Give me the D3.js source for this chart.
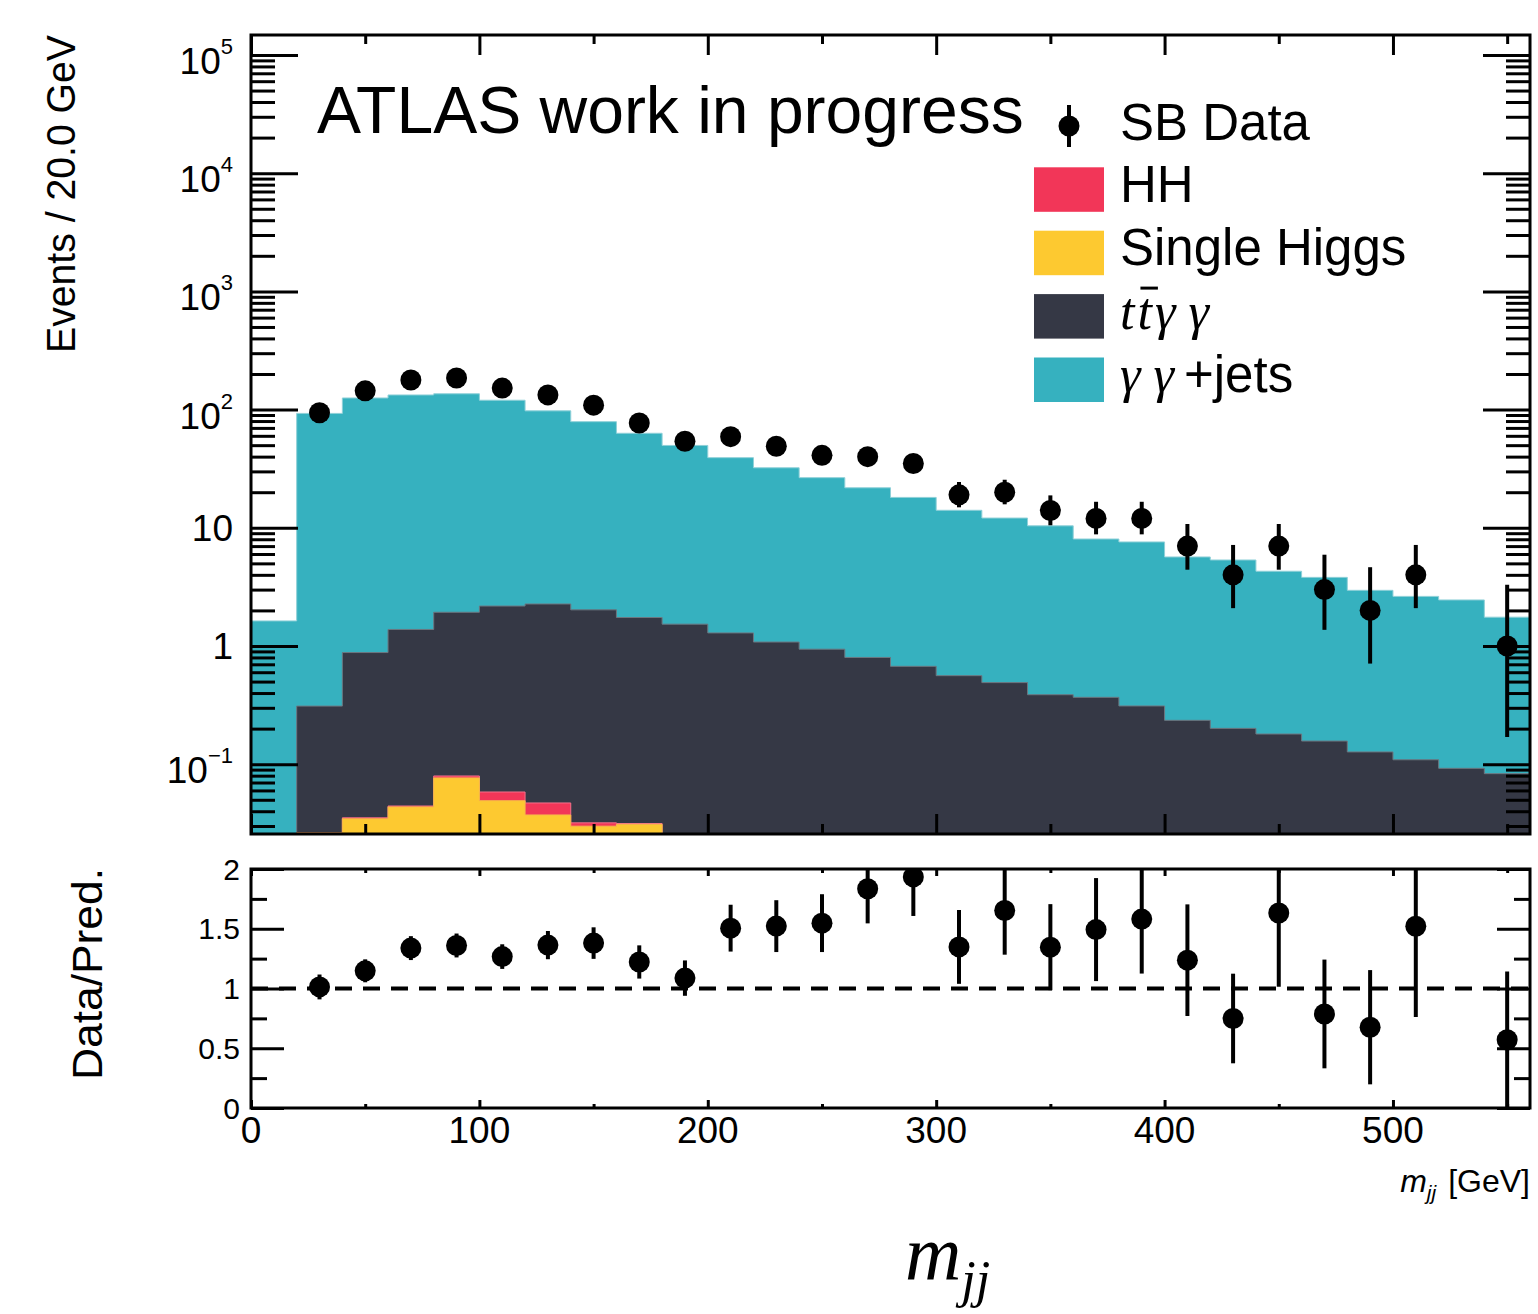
<!DOCTYPE html>
<meta charset="utf-8">
<style>

body {
  margin: 0;
  background: #fff;
}

text {
  font-family: "Liberation Sans", Arial, Helvetica, sans-serif;
  fill: #000;
}

.serif {
  font-family: "Liberation Serif", "Times New Roman", serif;
  font-style: italic;
}

.axis line {
  stroke: #000;
  stroke-width: 3;
}

.frame {
  fill: none;
  stroke: #000;
  stroke-width: 3;
}

</style>
<body>
<div id="draw"></div>
<script src="https://cdn.jsdelivr.net/npm/d3@7"></script>
<script>

// ---- data (20 GeV bins) ----
var binEdges = [0, 20, 40, 60, 80, 100, 120, 140, 160, 180, 200, 220, 240, 260, 280,
                300, 320, 340, 360, 380, 400, 420, 440, 460, 480, 500, 520, 540, 560];
var binCenters = [10, 30, 50, 70, 90, 110, 130, 150, 170, 190, 210, 230, 250, 270,
                  290, 310, 330, 350, 370, 390, 410, 430, 450, 470, 490, 510, 530, 550];

var gamgamJets = [1.63, 92.5, 124.5, 131.6, 134.1, 117.8, 95.3, 77.0, 61.3, 48.2, 37.9, 31.1, 25.6, 21.0,
                  17.4, 13.5, 11.6, 10.0, 7.67, 7.28, 5.43, 5.14, 4.11, 3.65, 2.83, 2.52, 2.36, 1.67];
var ttgamgam = [0, 0.284, 0.845, 1.336, 1.85, 2.12, 2.22, 1.99, 1.71, 1.53, 1.29, 1.08, 0.94, 0.80,
                0.673, 0.561, 0.49, 0.387, 0.368, 0.311, 0.235, 0.201, 0.180, 0.157, 0.127, 0.109, 0.0923, 0.0832];
var singleHiggs = [0, 0.0262, 0.0345, 0.0435, 0.0765, 0.0491, 0.0372, 0.0299, 0.031, 0, 0, 0, 0, 0,
                   0, 0, 0, 0, 0, 0, 0, 0, 0, 0, 0, 0, 0, 0];
var diHiggs = [0, 0, 0.0007, 0.0008, 0.003, 0.0091, 0.0098, 0.002, 0.0005, 0, 0, 0, 0, 0,
               0, 0, 0, 0, 0, 0, 0, 0, 0, 0, 0, 0, 0, 0];

var sbData =    [null, 94, 144, 178, 185, 152, 133, 109, 77, 54, 59, 49, 41, 40,
                 35, 19, 20, 14, 12, 12, 7, 4, 7, 3, 2, 4, null, 1];
var dataErrLo = [null, 9.4, 11.7, 13.0, 13.3, 12.0, 11.2, 10.1, 8.5, 7.1, 7.4, 6.7, 6.1, 6.0,
                 5.6, 4.1, 4.2, 3.5, 3.2, 3.2, 2.58, 1.91, 2.58, 1.63, 1.29, 1.91, null, 0.83];
var dataErrHi = [null, 10.7, 13.0, 14.3, 14.6, 13.3, 12.5, 11.4, 9.8, 8.3, 8.7, 8.0, 7.4, 7.3,
                 6.9, 5.4, 5.5, 4.8, 4.6, 4.6, 3.77, 3.16, 3.77, 2.92, 2.64, 3.16, null, 2.30];

var ratio =    [null, 1.013, 1.148, 1.338, 1.360, 1.267, 1.363, 1.380, 1.222, 1.087, 1.505, 1.522, 1.547, 1.835,
                1.934, 1.348, 1.653, 1.346, 1.493, 1.581, 1.237, 0.749, 1.632, 0.787, 0.676, 1.521, null, 0.571];
var ratioErr = [null, 0.104, 0.096, 0.100, 0.100, 0.103, 0.118, 0.132, 0.139, 0.148, 0.196, 0.217, 0.242, 0.290,
                0.327, 0.309, 0.370, 0.360, 0.431, 0.456, 0.467, 0.375, 0.617, 0.455, 0.478, 0.760, null, 0.571];

var yMajorTicks = [0.1, 1, 10, 100, 1000, 10000, 100000];
var yTickLabels = [["10", "\u22121"], ["1", ""], ["10", ""], ["10", "2"], ["10", "3"], ["10", "4"], ["10", "5"]];
var xMajorTicks = [0, 100, 200, 300, 400, 500];
var xMinorTicks = [50, 150, 250, 350, 450, 550];
var xTickLabels = ["0", "100", "200", "300", "400", "500"];
var ratioMajorTicks = [0, 0.5, 1, 1.5, 2];
var ratioMinorTicks = [0.25, 0.75, 1.25, 1.75];
var ratioTickLabels = ["0", "0.5", "1", "1.5", "2"];

var legendLabels = ["HH", "Single Higgs", "ttgg", "ggjets"];
var colors = {hh: "#f23658", sh: "#fdc930", tt: "#353845", gg: "#36b1bf"};

// ---- layout ----
var W = 1538, H = 1314;
var L = 251, R = 1530;
var topT = 35, topB = 834;
var ratT = 869, ratB = 1108;

var x = d3.scaleLinear().domain([0, 560]).range([L, R]);
var y = d3.scaleLog().domain([Math.pow(10, -1.5905), Math.pow(10, 5.169)]).range([topB, topT]);
var yr = d3.scaleLinear().domain([0, 2]).range([ratB, ratT]);

var svg = d3.select("#draw").append("svg")
    .attr("width", W)
    .attr("height", H);

var defs = svg.append("defs");
defs.append("clipPath").attr("id", "clipTop")
  .append("rect").attr("x", L).attr("y", topT).attr("width", R - L).attr("height", topB - topT);
defs.append("clipPath").attr("id", "clipRat")
  .append("rect").attr("x", L).attr("y", ratT).attr("width", R - L).attr("height", ratB - ratT);

// stacked sums: bottom single higgs, then HH, then ttgg, then gg+jets
var c1 = [], c2 = [], c3 = [], c4 = [];
for (var i = 0; i < gamgamJets.length; i++) {
  c1.push(singleHiggs[i]);
  c2.push(c1[i] + diHiggs[i]);
  c3.push(c2[i] + ttgamgam[i]);
  c4.push(c3[i] + gamgamJets[i]);
}

function stepPoints(vals) {
  var pts = [];
  for (var i = 0; i < vals.length; i++) {
    var yy = vals[i] > 0 ? y(vals[i]) : topB + 10;
    pts.push([x(binEdges[i]), yy]);
    pts.push([x(binEdges[i + 1]), yy]);
  }
  return pts;
}

var area = d3.area()
    .x(function(d) { return d[0]; })
    .y0(topB + 10)
    .y1(function(d) { return d[1]; });
var line = d3.line()
    .x(function(d) { return d[0]; })
    .y(function(d) { return d[1]; });

var hist = svg.append("g").attr("clip-path", "url(#clipTop)");
var layers = [
  {vals: c4, fill: colors.gg, edge: "#8fd0d8"},
  {vals: c3, fill: colors.tt, edge: "#6c7780"},
  {vals: c2, fill: colors.hh, edge: "#f4708a"},
  {vals: c1, fill: colors.sh, edge: "#f7b94a"}
];
layers.forEach(function(l) {
  var pts = stepPoints(l.vals);
  hist.append("path").attr("d", area(pts)).attr("fill", l.fill);
  hist.append("path").attr("d", line(pts)).attr("fill", "none")
      .attr("stroke", l.edge).attr("stroke-width", 1);
});

// ---- axes (ticks drawn over the histograms) ----
function ticks(gen, tx, ty) {
  var g = svg.append("g").attr("class", "axis")
      .attr("transform", "translate(" + tx + "," + ty + ")")
      .call(gen);
  g.select(".domain").remove();
  return g;
}

var yMinor = [];
for (var e = -2; e <= 5; e++) {
  for (var m = 2; m <= 9; m++) {
    var v = m * Math.pow(10, e);
    if (v > y.domain()[0] && v < y.domain()[1]) yMinor.push(v);
  }
}

// top panel
ticks(d3.axisLeft(y).tickValues(yMajorTicks).tickSize(-47).tickFormat(""), L, 0);
ticks(d3.axisLeft(y).tickValues(yMinor).tickSize(-24).tickFormat(""), L, 0);
ticks(d3.axisRight(y).tickValues(yMajorTicks).tickSize(-47).tickFormat(""), R, 0);
ticks(d3.axisRight(y).tickValues(yMinor).tickSize(-24).tickFormat(""), R, 0);
ticks(d3.axisBottom(x).tickValues(xMajorTicks).tickSize(-20).tickFormat(""), 0, topB);
ticks(d3.axisBottom(x).tickValues(xMinorTicks).tickSize(-10).tickFormat(""), 0, topB);
ticks(d3.axisTop(x).tickValues(xMajorTicks).tickSize(-20).tickFormat(""), 0, topT);
ticks(d3.axisTop(x).tickValues(xMinorTicks).tickSize(-9).tickFormat(""), 0, topT);

// ratio panel
ticks(d3.axisLeft(yr).tickValues(ratioMajorTicks).tickSize(-33).tickFormat(""), L, 0);
ticks(d3.axisLeft(yr).tickValues(ratioMinorTicks).tickSize(-16).tickFormat(""), L, 0);
ticks(d3.axisRight(yr).tickValues(ratioMajorTicks).tickSize(-33).tickFormat(""), R, 0);
ticks(d3.axisRight(yr).tickValues(ratioMinorTicks).tickSize(-16).tickFormat(""), R, 0);
ticks(d3.axisBottom(x).tickValues(xMajorTicks).tickSize(-8).tickFormat(""), 0, ratB);
ticks(d3.axisBottom(x).tickValues(xMinorTicks).tickSize(-4).tickFormat(""), 0, ratB);
ticks(d3.axisTop(x).tickValues(xMajorTicks).tickSize(-7).tickFormat(""), 0, ratT);
ticks(d3.axisTop(x).tickValues(xMinorTicks).tickSize(-4).tickFormat(""), 0, ratT);

svg.append("rect").attr("class", "frame")
    .attr("x", L).attr("y", topT).attr("width", R - L).attr("height", topB - topT);
svg.append("rect").attr("class", "frame")
    .attr("x", L).attr("y", ratT).attr("width", R - L).attr("height", ratB - ratT);

// tick labels
yMajorTicks.forEach(function(v, i) {
  var lab = yTickLabels[i];
  var t = svg.append("text").attr("x", 233).attr("text-anchor", "end").attr("font-size", 37);
  if (lab[1] !== "") {
    t.attr("y", y(v) + 19);
    t.append("tspan").text(lab[0]);
    t.append("tspan").attr("font-size", 22).attr("dy", -20).text(lab[1]);
  } else {
    t.attr("y", y(v) + 13.5).text(lab[0]);
  }
});

xMajorTicks.forEach(function(v, i) {
  svg.append("text").attr("x", x(v)).attr("y", 1143)
      .attr("text-anchor", "middle").attr("font-size", 37).text(xTickLabels[i]);
});

ratioMajorTicks.forEach(function(v, i) {
  svg.append("text").attr("x", 240).attr("y", yr(v) + 10.5)
      .attr("text-anchor", "end").attr("font-size", 30).text(ratioTickLabels[i]);
});

// ---- data points ----
var pts = svg.append("g").attr("clip-path", "url(#clipTop)");
binCenters.forEach(function(c, i) {
  if (sbData[i] == null) return;
  pts.append("line")
      .attr("x1", x(c)).attr("x2", x(c))
      .attr("y1", y(sbData[i] + dataErrHi[i]))
      .attr("y2", y(Math.max(sbData[i] - dataErrLo[i], 1e-3)))
      .attr("stroke", "#000").attr("stroke-width", 4);
  pts.append("circle").attr("cx", x(c)).attr("cy", y(sbData[i])).attr("r", 10.5).attr("fill", "#000");
});

var rat = svg.append("g").attr("clip-path", "url(#clipRat)");
rat.append("line")
    .attr("x1", L).attr("x2", R).attr("y1", yr(1)).attr("y2", yr(1))
    .attr("stroke", "#000").attr("stroke-width", 4).attr("stroke-dasharray", "17,11");
binCenters.forEach(function(c, i) {
  if (ratio[i] == null) return;
  rat.append("line")
      .attr("x1", x(c)).attr("x2", x(c))
      .attr("y1", yr(ratio[i] + ratioErr[i]))
      .attr("y2", yr(Math.max(ratio[i] - ratioErr[i], 0)))
      .attr("stroke", "#000").attr("stroke-width", 4);
  rat.append("circle").attr("cx", x(c)).attr("cy", yr(ratio[i])).attr("r", 10.5).attr("fill", "#000");
});

// ---- texts ----
svg.append("text").attr("x", 317).attr("y", 133).attr("font-size", 66).text("ATLAS work in progress");

svg.append("text")
    .attr("transform", "translate(75," + topT + ") rotate(-90)")
    .attr("text-anchor", "end").attr("font-size", 41)
    .attr("textLength", 318).attr("lengthAdjust", "spacingAndGlyphs")
    .text("Events / 20.0 GeV");

svg.append("text")
    .attr("transform", "translate(102," + (ratT - 1) + ") rotate(-90)")
    .attr("text-anchor", "end").attr("font-size", 42)
    .attr("textLength", 212).attr("lengthAdjust", "spacingAndGlyphs")
    .text("Data/Pred.");

// small x title
var xt = svg.append("text").attr("x", R).attr("y", 1192).attr("text-anchor", "end").attr("font-size", 32);
xt.append("tspan").attr("font-style", "italic").text("m");
xt.append("tspan").attr("font-style", "italic").attr("font-size", 21).attr("dy", 8).text("jj");
xt.append("tspan").attr("dy", -8).attr("dx", 12).text("[GeV]");

// big x title
var bt = svg.append("text").attr("class", "serif").attr("x", 905).attr("y", 1280).attr("font-size", 78);
bt.append("tspan").text("m");
bt.append("tspan").attr("font-size", 52).attr("dy", 17).text("jj");

// ---- legend ----
var lg = svg.append("g");
lg.append("line").attr("x1", 1069).attr("x2", 1069).attr("y1", 105).attr("y2", 147)
    .attr("stroke", "#000").attr("stroke-width", 4);
lg.append("circle").attr("cx", 1069).attr("cy", 126).attr("r", 10.5).attr("fill", "#000");
lg.append("text").attr("x", 1120).attr("y", 140).attr("font-size", 51).text("SB Data");

var swatchColors = [colors.hh, colors.sh, colors.tt, colors.gg];
legendLabels.forEach(function(name, i) {
  var top = 167.3 + i * 63.4;
  lg.append("rect").attr("x", 1034).attr("y", top).attr("width", 70).attr("height", 44.5)
      .attr("fill", swatchColors[i]);
  var t = lg.append("text").attr("x", 1120).attr("y", top + 34.5).attr("font-size", 51);
  if (name == "ttgg") {
    t.attr("class", "serif").attr("font-size", 52);
    t.append("tspan").attr("letter-spacing", 3).text("tt");
    t.append("tspan").text("\u03b3 \u03b3");
    // bar over the second t
    var node = t.node();
    var sx = node.getStartPositionOfChar(1).x;
    var w = node.getSubStringLength(1, 1);
    lg.append("line").attr("x1", sx + 3).attr("x2", sx + w + 3)
        .attr("y1", top - 6).attr("y2", top - 6)
        .attr("stroke", "#000").attr("stroke-width", 3);
  } else if (name == "ggjets") {
    t.append("tspan").attr("class", "serif").attr("font-size", 52).text("\u03b3 \u03b3");
    t.append("tspan").attr("dx", 10).text("+jets");
  } else {
    t.text(name);
  }
});

</script>
